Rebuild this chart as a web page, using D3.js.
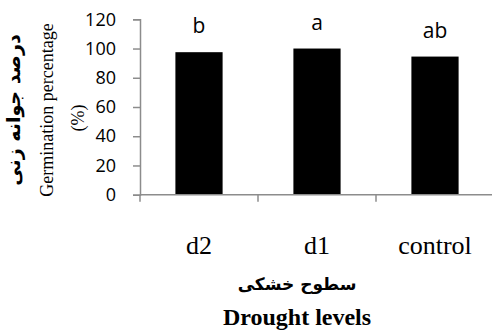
<!DOCTYPE html>
<html>
<head>
<meta charset="utf-8">
<script src="https://cdn.jsdelivr.net/npm/d3@7"></script>
<style>
  body { margin: 0; background: #fff; }
  svg { display: block; }
</style>
</head>
<body>
<div id="chart"></div>
<script>
// data
var categories = ["d2", "d1", "control"];
var values = [97.5, 100, 94.5];
var letters = ["b", "a", "ab"];
var yTicks = [0, 20, 40, 60, 80, 100, 120];

var width = 492, height = 333;
var svg = d3.select("#chart").append("svg")
  .attr("width", width)
  .attr("height", height);

var x = d3.scaleBand()
  .domain(categories)
  .range([140, 494])
  .paddingInner(0.6)
  .paddingOuter(0.3);

var y = d3.scaleLinear()
  .domain([0, 120])
  .range([194.7, 19.3]);

var axisColor = "#8c8c8c";

// bars
svg.selectAll("rect.bar")
  .data(values)
  .enter().append("rect")
  .attr("class", "bar")
  .attr("x", function(d, i) { return x(categories[i]); })
  .attr("y", function(d) { return y(d); })
  .attr("width", x.bandwidth())
  .attr("height", function(d) { return y(0) - y(d); })
  .attr("fill", "#000");

// significance letters
svg.selectAll("text.letter")
  .data(values)
  .enter().append("text")
  .attr("class", "letter")
  .attr("x", function(d, i) { return x(categories[i]) + x.bandwidth() / 2; })
  .attr("y", function(d) { return y(d) - 19; })
  .attr("text-anchor", "middle")
  .attr("font-family", "'Open Sans', sans-serif")
  .attr("font-size", 21)
  .text(function(d, i) { return letters[i]; });

// y axis
var yAxis = svg.append("g")
  .attr("transform", "translate(140,0)")
  .call(d3.axisLeft(y).tickValues(yTicks).tickSize(7).tickPadding(17));
yAxis.select(".domain").attr("stroke", axisColor).attr("stroke-width", 1.5);
yAxis.selectAll(".tick line").attr("stroke", axisColor).attr("stroke-width", 1.5);
yAxis.selectAll(".tick text")
  .attr("font-family", "'Open Sans', sans-serif")
  .attr("font-size", 18)
  .attr("fill", "#000");

// x axis, ticks on band boundaries
var xAxis = svg.append("g")
  .attr("transform", "translate(0," + y(0) + ")");
xAxis.append("line")
  .attr("x1", 140).attr("x2", 492)
  .attr("stroke", axisColor).attr("stroke-width", 1.5);
xAxis.selectAll("line.tick")
  .data(categories)
  .enter().append("line")
  .attr("class", "tick")
  .attr("x1", function(d) { return x(d) - x.step() * x.paddingOuter(); })
  .attr("x2", function(d) { return x(d) - x.step() * x.paddingOuter(); })
  .attr("y1", 0).attr("y2", 7)
  .attr("stroke", axisColor).attr("stroke-width", 1.5);
xAxis.selectAll("text.cat")
  .data(categories)
  .enter().append("text")
  .attr("class", "cat")
  .attr("x", function(d) { return x(d) + x.bandwidth() / 2; })
  .attr("y", 59)
  .attr("text-anchor", "middle")
  .attr("font-family", "'Liberation Serif', serif")
  .attr("font-size", 26)
  .text(function(d) { return d; });

// x axis titles
svg.append("text")
  .attr("x", 297).attr("y", 290)
  .attr("text-anchor", "middle")
  .attr("font-family", "'DejaVu Sans', sans-serif")
  .attr("font-weight", "bold")
  .attr("font-size", 17)
  .text("سطوح خشکی");
svg.append("text")
  .attr("x", 297).attr("y", 325)
  .attr("text-anchor", "middle")
  .attr("font-family", "'Liberation Serif', serif")
  .attr("font-weight", "bold")
  .attr("font-size", 24)
  .text("Drought levels");

// y axis titles (rotated)
var yTitle = svg.append("g")
  .attr("transform", "translate(0,110) rotate(-90)");
yTitle.append("text")
  .attr("x", 0).attr("y", 20)
  .attr("text-anchor", "middle")
  .attr("font-family", "'DejaVu Sans', sans-serif")
  .attr("font-weight", "bold")
  .attr("font-size", 19)
  .text("درصد جوانه زنی");
yTitle.append("text")
  .attr("x", 0).attr("y", 53)
  .attr("text-anchor", "middle")
  .attr("font-family", "'Liberation Serif', serif")
  .attr("font-size", 18)
  .text("Germination percentage");
yTitle.append("text")
  .attr("x", -8).attr("y", 84)
  .attr("text-anchor", "middle")
  .attr("font-family", "'Liberation Serif', serif")
  .attr("font-size", 18)
  .text("(%)");
</script>
</body>
</html>
